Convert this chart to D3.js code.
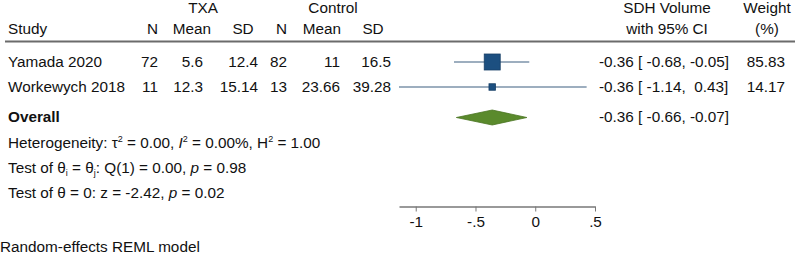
<!DOCTYPE html>
<html>
<head>
<meta charset="utf-8">
<script src="https://cdn.jsdelivr.net/npm/d3@7"></script>
<style>
  body { margin: 0; background: #fff; }
  text { font-family: "Liberation Sans", Arial, sans-serif; fill: #111; white-space: pre; }
</style>
</head>
<body>
<div id="chart"></div>
<script>
// study data
const studies = ["Yamada 2020", "Workewych 2018"];
const txaN = [72, 11];
const txaMean = ["5.6", "12.3"];
const txaSD = ["12.4", "15.14"];
const ctlN = [82, 13];
const ctlMean = ["11", "23.66"];
const ctlSD = ["16.5", "39.28"];
const effect = [-0.36, -0.36];
const lower = [-0.68, -1.14];
const upper = [-0.05, 0.43];
const weight = [85.83, 14.17];

const overall = { est: -0.36, lo: -0.66, hi: -0.07 };
const ticks = [-1, -0.5, 0, 0.5];
const tickLabels = ["-1", "-.5", "0", ".5"];

const W = 800, H = 254;
const svg = d3.select("#chart").append("svg")
    .attr("width", W)
    .attr("height", H);

const x = d3.scaleLinear()
    .domain([-1.14, 0.5])
    .range([399, 595]);

const rowY = d3.scalePoint()
    .domain(studies)
    .range([62, 87]);

const fs = 15.3;

// column header helper
function label(xp, yp, t, anchor, bold) {
    return svg.append("text")
        .attr("x", xp)
        .attr("y", yp)
        .attr("text-anchor", anchor || "start")
        .style("font-size", fs + "px")
        .style("font-weight", bold ? "bold" : "normal")
        .text(t);
}

// headers
label(203, 13, "TXA", "middle");
label(333, 13, "Control", "middle");
label(667, 13, "SDH Volume", "middle");
label(767, 13, "Weight", "middle");
label(8, 34, "Study");
label(158, 34, "N", "end");
label(192, 34, "Mean", "middle");
label(243, 34, "SD", "middle");
label(287, 34, "N", "end");
label(322, 34, "Mean", "middle");
label(373, 34, "SD", "middle");
label(667, 34, "with 95% CI", "middle");
label(767, 34, "(%)", "middle");

svg.append("line")
    .attr("x1", 5).attr("x2", 795)
    .attr("y1", 41.5).attr("y2", 41.5)
    .attr("stroke", "#6b6b6b")
    .attr("stroke-width", 2);

// table columns
const cols = [
    { vals: studies, x: 8, anchor: "start" },
    { vals: txaN, x: 158, anchor: "end" },
    { vals: txaMean, x: 203, anchor: "end" },
    { vals: txaSD, x: 258, anchor: "end" },
    { vals: ctlN, x: 287, anchor: "end" },
    { vals: ctlMean, x: 340, anchor: "end" },
    { vals: ctlSD, x: 391, anchor: "end" },
    { vals: weight.map(d => d3.format(".2f")(d)), x: 785, anchor: "end" }
];

cols.forEach(c => {
    svg.append("g").selectAll("text")
        .data(c.vals)
        .enter()
        .append("text")
        .attr("x", c.x)
        .attr("y", (d, i) => rowY(studies[i]) + 5)
        .attr("text-anchor", c.anchor)
        .style("font-size", fs + "px")
        .text(d => d);
});

// Stata style numbers with a plain hyphen for minus
const f2 = v => d3.format(".2f")(v).replace("\u2212", "-");
function ciText(e, l, u) {
    const pad = v => (v < 0 ? "" : " ") + f2(v);
    return `${f2(e)} [ ${f2(l)}, ${pad(u)}]`;
}

svg.append("g").selectAll("text")
    .data(studies)
    .enter()
    .append("text")
    .attr("xml:space", "preserve")
    .attr("x", 599)
    .attr("y", d => rowY(d) + 5)
    .style("font-size", fs + "px")
    .text((d, i) => ciText(effect[i], lower[i], upper[i]));

// CI lines
svg.append("g").selectAll("line")
    .data(studies)
    .enter()
    .append("line")
    .attr("x1", (d, i) => x(lower[i]))
    .attr("x2", (d, i) => x(upper[i]))
    .attr("y1", d => rowY(d))
    .attr("y2", d => rowY(d))
    .attr("stroke", "#7d93aa")
    .attr("stroke-width", 1.5);

// weight squares, area proportional to weight
const side = d3.scaleSqrt()
    .domain([0, d3.max(weight)])
    .range([0, 16]);

svg.append("g").selectAll("rect")
    .data(studies)
    .enter()
    .append("rect")
    .attr("x", (d, i) => x(effect[i]) - side(weight[i]) / 2)
    .attr("y", (d, i) => rowY(d) - side(weight[i]) / 2)
    .attr("width", (d, i) => side(weight[i]))
    .attr("height", (d, i) => side(weight[i]))
    .attr("fill", "#1c4f80")
    .attr("stroke", "#173f66")
    .attr("stroke-width", 0.8);

// overall row
const oy = 117.5;
label(8, 122, "Overall", "start", true);
svg.append("path")
    .attr("d", `M${x(overall.lo)},${oy} L${x(overall.est)},${oy - 7.5} L${x(overall.hi)},${oy} L${x(overall.est)},${oy + 7.5} Z`)
    .attr("fill", "#5a8a2c")
    .attr("stroke", "#4a7522")
    .attr("stroke-width", 0.8);
svg.append("text")
    .attr("xml:space", "preserve")
    .attr("x", 599)
    .attr("y", 122)
    .style("font-size", fs + "px")
    .text(ciText(overall.est, overall.lo, overall.hi));

// stats text
const het = svg.append("text").attr("x", 8).attr("y", 148).style("font-size", fs + "px");
het.append("tspan").text("Heterogeneity: τ");
het.append("tspan").attr("dy", -6).style("font-size", "9px").text("2");
het.append("tspan").attr("dy", 6).text(" = 0.00, ");
het.append("tspan").style("font-style", "italic").text("I");
het.append("tspan").attr("dy", -6).style("font-size", "9px").text("2");
het.append("tspan").attr("dy", 6).text(" = 0.00%, H");
het.append("tspan").attr("dy", -6).style("font-size", "9px").text("2");
het.append("tspan").attr("dy", 6).text(" = 1.00");

const q = svg.append("text").attr("x", 8).attr("y", 173).style("font-size", fs + "px");
q.append("tspan").text("Test of θ");
q.append("tspan").attr("dy", 3).style("font-size", "9px").text("i");
q.append("tspan").attr("dy", -3).text(" = θ");
q.append("tspan").attr("dy", 3).style("font-size", "9px").text("j");
q.append("tspan").attr("dy", -3).text(": Q(1) = 0.00, ");
q.append("tspan").style("font-style", "italic").text("p");
q.append("tspan").text(" = 0.98");

const z = svg.append("text").attr("x", 8).attr("y", 198).style("font-size", fs + "px");
z.append("tspan").text("Test of θ = 0: z = -2.42, ");
z.append("tspan").style("font-style", "italic").text("p");
z.append("tspan").text(" = 0.02");

label(0, 252, "Random-effects REML model");

// axis
const axis = svg.append("g")
    .attr("transform", "translate(0,206.5)")
    .call(d3.axisBottom(x)
        .tickValues(ticks)
        .tickFormat((d, i) => tickLabels[i])
        .tickSize(5)
        .tickSizeOuter(0));
axis.select(".domain").attr("stroke", "#777").attr("stroke-width", 1.5);
axis.selectAll(".tick line").attr("stroke", "#777");
axis.selectAll(".tick text")
    .attr("dy", 0)
    .attr("y", 20)
    .style("font-size", fs + "px")
    .style("font-family", "'Liberation Sans', Arial, sans-serif")
    .attr("fill", "#111");
</script>
</body>
</html>
